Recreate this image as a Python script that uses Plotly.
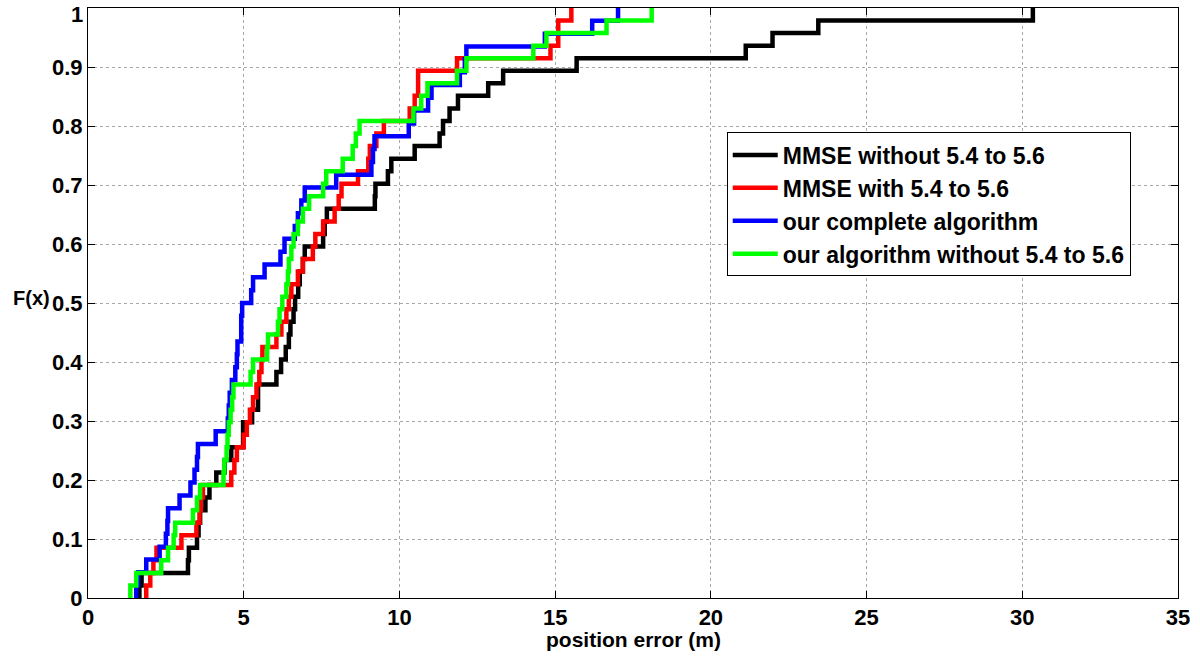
import plotly.graph_objects as go

# sorted sample values (position error, m) for each empirical CDF
black_x = [1.65, 1.72, 3.21, 3.24, 3.50, 3.55, 3.60, 3.77, 3.90, 4.12, 4.39, 4.60,
           4.98, 4.98, 5.27, 5.46, 5.46, 6.05, 6.20, 6.35, 6.45, 6.50, 6.60, 6.65,
           6.75, 6.80, 6.90, 6.96, 7.55, 7.60, 7.67, 9.21, 9.23, 9.63, 9.74, 10.49,
           11.29, 11.40, 11.61, 11.88, 12.85, 13.33, 15.69, 21.12, 21.98, 23.45, 30.34]
red_x = [1.87, 2.00, 2.10, 2.20, 3.00, 3.48, 3.58, 3.62, 3.69, 4.60, 4.70, 4.78,
         5.00, 5.10, 5.20, 5.30, 5.41, 5.50, 5.57, 5.60, 6.05, 6.21, 6.37, 6.45,
         6.53, 6.74, 6.90, 7.22, 7.30, 7.55, 7.92, 8.05, 8.14, 8.67, 9.00, 9.05,
         9.26, 9.50, 10.33, 10.49, 10.60, 10.60, 11.85, 14.85, 15.10, 15.10, 15.52]
blue_x = [1.55, 1.61, 1.87, 2.30, 2.50, 2.55, 2.57, 2.94, 3.29, 3.42, 3.50, 3.53,
          4.10, 4.49, 4.52, 4.55, 4.62, 4.73, 4.78, 4.80, 4.92, 4.92, 4.95, 5.24,
          5.30, 5.67, 6.18, 6.31, 6.64, 6.74, 6.85, 6.96, 7.97, 9.10, 9.15, 9.20,
          10.30, 10.47, 10.92, 11.03, 11.94, 12.10, 12.15, 14.67, 16.19, 17.02]
green_x = [1.36, 1.55, 2.35, 2.57, 2.75, 2.80, 3.37, 3.50, 3.60, 4.35, 4.38, 4.45,
           4.48, 4.52, 4.58, 4.63, 4.67, 5.22, 5.30, 5.75, 5.78, 6.10, 6.15, 6.24,
           6.37, 6.42, 6.45, 6.53, 6.60, 6.74, 6.90, 7.10, 7.55, 7.65, 8.18, 8.50,
           8.60, 8.72, 10.45, 10.70, 10.90, 11.85, 12.15, 14.30, 14.72, 16.65, 18.10]

series_names = ["MMSE without 5.4 to 5.6", "MMSE with 5.4 to 5.6",
                "our complete algorithm", "our algorithm without 5.4 to 5.6"]
series_colors = ["#000000", "#ff0000", "#0000ff", "#00ff00"]
x_ticks = [0, 5, 10, 15, 20, 25, 30, 35]
y_ticks = [0, 0.1, 0.2, 0.3, 0.4, 0.5, 0.6, 0.7, 0.8, 0.9, 1]
y_tick_text = ["0", "0.1", "0.2", "0.3", "0.4", "0.5", "0.6", "0.7", "0.8", "0.9", ""]
top_tick_label = "1"


def ecdf(samples):
    n = len(samples)
    xs = [samples[0]]
    ys = [0.0]
    for i, v in enumerate(samples):
        xs.append(v)
        ys.append((i + 1) / n)
    return xs, ys


fig = go.Figure()
for data, name, color in zip([black_x, red_x, blue_x, green_x], series_names, series_colors):
    xs, ys = ecdf(data)
    fig.add_trace(go.Scatter(x=xs, y=ys, mode="lines", name=name,
                             line=dict(color=color, width=4.5, shape="hv")))

FONT = "Liberation Sans, Arial, Helvetica, sans-serif"
tick_font = dict(family=FONT, size=22, color="black", weight="bold")
axis_common = dict(showline=True, linecolor="black", linewidth=1, mirror="allticks",
                   ticks="inside", ticklen=7, tickcolor="black", tickwidth=1,
                   showgrid=True, gridcolor="#a8a8a8", griddash="dot", gridwidth=1,
                   zeroline=False, tickfont=tick_font, automargin=False,
                   ticklabeloverflow="allow")

fig.update_layout(
    width=1200, height=658,
    margin=dict(l=88, r=22, t=8, b=60),
    paper_bgcolor="white", plot_bgcolor="white",
    xaxis=dict(range=[0, 35], tickvals=x_ticks, **axis_common),
    yaxis=dict(range=[0, 1], tickvals=y_ticks, ticktext=y_tick_text, **axis_common),
    legend=dict(x=0.586, y=0.789, xanchor="left", yanchor="top",
                bgcolor="white", bordercolor="black", borderwidth=1,
                font=dict(family=FONT, size=23, color="black", weight="bold"),
                itemwidth=45, tracegroupgap=0),
    showlegend=True,
    annotations=[
        dict(text=top_tick_label, xref="paper", yref="y", x=0, y=1,
             showarrow=False, xanchor="right", yanchor="top", xshift=-3, yshift=8,
             font=tick_font),
        dict(text="F(x)", xref="paper", yref="paper", x=-0.033, y=0.509,
             showarrow=False, xanchor="right", yanchor="middle",
             font=dict(family=FONT, size=20, color="black", weight="bold")),
        dict(text="position error (m)", xref="paper", yref="paper", x=0.5, y=-0.07,
             showarrow=False, xanchor="center", yanchor="middle",
             font=dict(family=FONT, size=21, color="black", weight="bold")),
    ],
)

fig.write_html("out.html", config={"displayModeBar": False},
               post_script="document.body.style.margin='0';")
